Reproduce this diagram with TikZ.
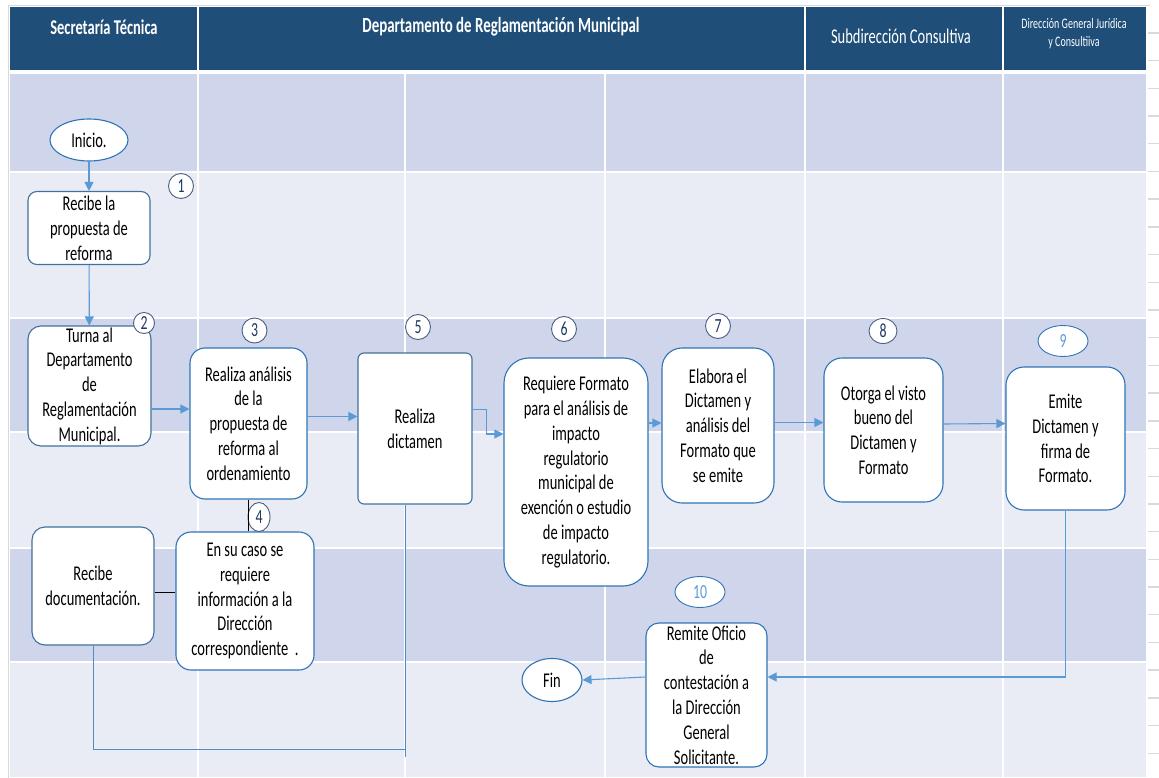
\documentclass[tikz,border=0pt]{standalone}
\usepackage{fontspec}
\setmainfont[FakeStretch=0.69]{Carlito}
\usetikzlibrary{arrows.meta,shapes.geometric}

\definecolor{cabecera}{HTML}{1F4E79}
\definecolor{filaosc}{HTML}{CFD5EA}
\definecolor{filacla}{HTML}{E9EBF5}
\definecolor{flechaaz}{HTML}{5B9BD5}
\definecolor{bordeosc}{HTML}{41719C}
\definecolor{bordeaz}{HTML}{2E75B6}
\definecolor{numaz}{HTML}{1F3864}
\definecolor{marco}{HTML}{D9D9D9}

\begin{document}
\begin{tikzpicture}[x=1pt,y=-1pt,
		paso/.style={draw=bordeaz,line width=1.1pt,fill=white,rounded corners=#1,align=center,
			inner sep=0pt,font=\fontsize{21}{24.8}\selectfont},
		paso/.default=15pt,
		extremo/.style={ellipse,draw=bordeaz,line width=1.1pt,fill=white,inner sep=0pt,
			font=\fontsize{21}{24}\selectfont},
		num/.style={circle,draw=numaz!80,line width=0.9pt,fill=white,minimum size=25pt,inner sep=0pt,
			text=numaz,font=\fontsize{20}{20}\selectfont},
		numclaro/.style={ellipse,draw=bordeaz,line width=0.9pt,fill=white,minimum width=50pt,
			minimum height=31pt,inner sep=0pt,text=flechaaz,font=\fontsize{20}{20}\selectfont},
		flecha/.style={draw=flechaaz,line width=1.1pt,-{Triangle[width=9pt,length=9pt]}},
		linea/.style={draw=flechaaz!90!black,line width=0.9pt},
		enlace/.style={draw=black,line width=0.9pt},
		titulo/.style={text=white,align=center}
	]
	\useasboundingbox (0,0) rectangle (1159,778);
	
	% marco de la hoja
	\draw[marco,line width=0.6pt] (8,778) -- (8,5) -- (1150,5);
	\foreach \k in {0,...,26}
		\draw[marco,line width=1.4pt] (1148,{33+27.7*\k}) -- ++(11,0);
	
	% cabecera
	\fill[cabecera] (10,7) rectangle (1146,70);
	\foreach \xc in {198,805,1003}
		\draw[white,line width=2pt] (\xc,7) -- (\xc,70);
	\node[titulo,font=\bfseries\fontsize{21}{21}\selectfont] (secre) at (104,27) {Secretaría Técnica};
	\node[titulo,font=\bfseries\fontsize{21.6}{21}\selectfont] (depto) at (501,27) {Departamento de Reglamentación Municipal};
	\node[titulo,font=\fontsize{21}{21}\selectfont] (subdir) at (901,36) {Subdirección Consultiva};
	\node[titulo,font=\fontsize{14.5}{18}\selectfont] (dirgen) at (1074,34) {Dirección General Jurídica\\ y Consultiiva};
	
	% franjas
	\foreach \ya/\yb/\tono in {74/172/filaosc,172/318/filacla,318/432/filaosc,432/548/filacla,548/662/filaosc,662/777/filacla}
		\fill[\tono] (10,\ya) rectangle (1146,\yb);
	\foreach \yc in {172,318,432,548,662}
		\draw[white,line width=2.5pt] (10,\yc) -- (1146,\yc);
	\foreach \xc in {198,405,605,805,1003}
		\draw[white,line width=2.5pt] (\xc,74) -- (\xc,777);
	
	% actividades
	\node[extremo,minimum width=78pt,minimum height=42pt] (inicio) at (89,140) {Inicio.};
	\node[paso=9pt,draw=bordeosc,minimum width=122pt,minimum height=73pt] (recibe) at (89,228) {Recibe la\\ propuesta de\\ reforma};
	\node[paso=13pt,draw=bordeosc,minimum width=123pt,minimum height=120pt] (turna) at (89.5,386) {Turna al\\ Departamento\\ de\\ Reglamentación\\ Municipal.};
	\node[paso,minimum width=117pt,minimum height=151pt] (analisis) at (248.5,423.5) {Realiza análisis\\ de la\\ propuesta de\\ reforma al\\ ordenamiento};
	\node[paso=6pt,draw=bordeosc,minimum width=114pt,minimum height=151pt] (dictamen) at (415,428.5) {Realiza\\ dictamen};
	\node[paso=25pt,minimum width=144pt,minimum height=228pt] (formato) at (576,472) {Requiere Formato\\ para el análisis de\\ impacto\\ regulatorio\\ municipal de\\ exención o estudio\\ de impacto\\ regulatorio.};
	\node[paso=20pt,minimum width=112pt,minimum height=155pt] (elabora) at (718,425.5) {Elabora el\\ Dictamen y\\ análisis del\\ Formato que\\ se emite};
	\node[paso=18pt,minimum width=119pt,minimum height=144pt] (otorga) at (883.5,430) {Otorga el visto\\ bueno del\\ Dictamen y\\ Formato};
	\node[paso=18pt,minimum width=119pt,minimum height=143pt] (emite) at (1065.5,438.5) {Emite\\ Dictamen y\\ firma de\\ Formato.};
	\node[paso,minimum width=138pt,minimum height=138pt] (caso) at (245,601) {En su caso se\\ requiere\\ información a la\\ Dirección\\ correspondiente~~.};
	\node[paso=13pt,draw=bordeosc,minimum width=122pt,minimum height=118pt] (recibedoc) at (93,586) {Recibe\\ documentación.};
	\node[paso=13pt,minimum width=121pt,minimum height=144pt] (remite) at (706.5,695) {Remite Oficio\\ de\\ contestación a\\ la Dirección\\ General\\ Solicitante.};
	\node[extremo,minimum width=60pt,minimum height=43pt] (fin) at (552,680) {Fin};
	
	% numeracion
	\node[num] (n1) at (181,186) {1};
	\node[num,minimum size=21pt] (n2) at (144,323) {2};
	\node[num] (n3) at (254.5,330.5) {3};
	\node[num,ellipse,minimum width=22pt,minimum height=29pt] (n4) at (259,517) {4};
	\node[num] (n5) at (418,327) {5};
	\node[num] (n6) at (564,329) {6};
	\node[num] (n7) at (718,326) {7};
	\node[num,ellipse,minimum width=28pt,minimum height=25pt] (n8) at (883,331) {8};
	\node[numclaro] (n9) at (1063,341) {9};
	\node[numclaro] (n10) at (700,592) {10};
	
	% flujo
	\draw[flecha] (inicio) -- (recibe);
	\draw[flecha] (recibe) -- (turna);
	\draw[flecha] ([yshift=-23pt]turna.east) -- ([yshift=-23pt]turna.east -| analisis.west);
	\draw[flecha] ([yshift=7pt]analisis.east) -- ([yshift=7pt]analisis.east -| dictamen.west);
	\draw[flecha] ([yshift=19pt]dictamen.east) -| ([xshift=-17pt,yshift=38pt]formato.west) -- ([yshift=38pt]formato.west);
	\draw[flecha] ([yshift=49pt]formato.east) -- ([yshift=49pt]formato.east -| elabora.west);
	\draw[flecha] ([yshift=3pt]elabora.east) -- ([yshift=3pt]elabora.east -| otorga.west);
	\draw[flecha] ([yshift=6pt]otorga.east) -- ([yshift=15pt]emite.west);
	\draw[flecha] (emite.south) |- ([yshift=18pt]remite.east);
	\draw[flecha] ([yshift=18pt]remite.west) -- (fin.east);
	
	% retorno de la documentacion
	\coordinate (esq) at (92,749);
	\coordinate (baja) at (405,757);
	\draw[linea] (recibedoc.south) -- (recibedoc.south |- esq) -- (esq -| baja);
	\draw[linea] (baja |- dictamen.south) -- (baja);
	\draw[enlace] (analisis.south) -- (analisis.south |- caso.north);
	\draw[enlace] ([yshift=-6pt]recibedoc.east) -- ([yshift=-6pt]recibedoc.east -| caso.west);
\end{tikzpicture}
\end{document}
